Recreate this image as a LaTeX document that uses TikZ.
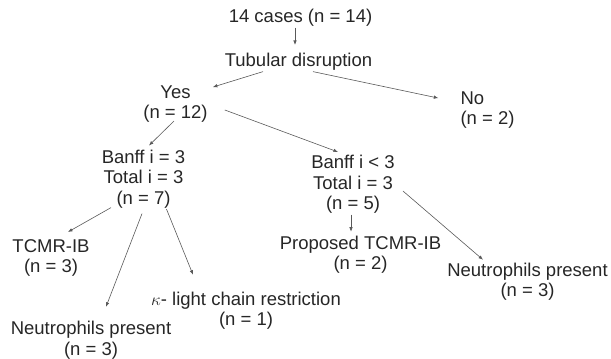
\documentclass[tikz,border=0pt]{standalone}
\usepackage{fontspec}
\setmainfont{Liberation Sans}
\usetikzlibrary{arrows.meta}

\begin{document}
\begin{tikzpicture}[x=1pt,y=1pt,
    every node/.style={inner sep=1pt, align=center, text=black!85,
      font=\fontsize{18.5}{20.5}\selectfont},
    arr/.style={draw=black!65, line width=0.6pt, -{Latex[length=4.5pt,width=3.5pt]}}]
    \useasboundingbox (0,0) rectangle (611,-359);
    \node (p0) at (300.5,-17.8) {14 cases (n = 14)};
      \node[below of=p0, node distance=44pt, xshift=-2pt](p1){Tubular disruption};
      \node[below of=p1, node distance=42pt, xshift=-123pt](p2){Yes\\(n = 12)};
      \node[below of=p1, node distance=48pt, xshift=189pt, align=left](p3){No\\(n = 2)};
      \node[below of=p2, node distance=75pt, xshift=-32pt](p4){Banff i = 3\\Total i = 3\\(n = 7)};
      \node[below of=p2, node distance=80.5pt, xshift=177.5pt](p5){Banff i < 3\\Total i = 3\\(n = 5)};
      \node[below of=p4, node distance=79pt, xshift=-92.5pt](p6){TCMR-IB\\(n = 3)};
      \node[below of=p4, node distance=161.5pt, xshift=-52.5pt](p10){Neutrophils present\\(n = 3)};
      \node[below of=p4, node distance=132pt, xshift=102.5pt](p9){$\kappa$- light chain restriction\\(n = 1)};
      \node[below of=p5, node distance=70.5pt, xshift=7.5pt](p7){Proposed TCMR-IB\\(n = 2)};
      \node[below of=p5, node distance=97.5pt, xshift=174.5pt](p8){Neutrophils present\\(n = 3)};
      \draw[arr] ([xshift=-5.5pt]p0.south) -- ([xshift=-3.5pt,yshift=7pt]p1.north);
      \draw[arr] ([xshift=-35.5pt]p1.south) -- ([xshift=4pt,yshift=-3pt]p2.north east);
      \draw[arr] ([xshift=14.5pt]p1.south) -- ([xshift=-21pt,yshift=-8pt]p3.north west);
      \draw[arr] ([xshift=-1.5pt,yshift=2.5pt]p2.south) -- ([xshift=5.5pt,yshift=3pt]p4.north);
      \draw[arr] ([xshift=16pt,yshift=-6.2pt]p2.east) -- ([xshift=-15pt,yshift=2pt]p5.north);
      \draw[arr] ([xshift=-32.5pt,yshift=1.5pt]p4.south) -- ([xshift=17pt,yshift=6pt]p6.north);
      \draw[arr] ([xshift=-1.5pt,yshift=-4.5pt]p4.south) -- ([xshift=15pt,yshift=13.4pt]p10.north);
      \draw[arr] ([xshift=23pt]p4.south) -- ([xshift=-53pt,yshift=16pt]p9.north);
      \draw[arr] ([xshift=-2pt]p5.south) -- ([xshift=-9.5pt,yshift=3pt]p7.north);
      \draw[arr] ([xshift=7pt,yshift=-6.7pt]p5.east) -- ([xshift=-44.5pt,yshift=2pt]p8.north);
    \end{tikzpicture}
\end{document}
